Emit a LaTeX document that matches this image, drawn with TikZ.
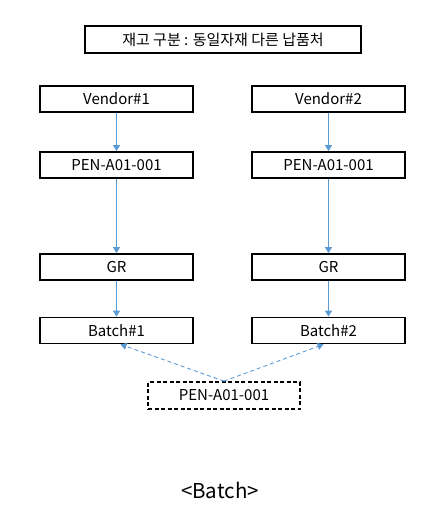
\documentclass[tikz,border=0pt]{standalone}
\usepackage{fontspec}
\setmainfont{Noto Sans CJK KR}
\usetikzlibrary{arrows.meta,positioning}
\definecolor{cline}{RGB}{91,155,213}
\tikzset{
  box/.style={draw,line width=1.7pt,minimum width=153pt,minimum height=26pt,inner sep=0pt,font=\fontsize{15}{17}\selectfont},
  conn/.style={cline,line width=0.9pt,-{Triangle[width=7pt,length=6pt]}}
}

\begin{document}
\begin{tikzpicture}[x=1pt,y=-1pt]
\useasboundingbox (0,0) rectangle (441,525);
\node[box,minimum width=276pt,minimum height=27pt] (title) at (223,39.5) {재고 구분 : 동일자재 다른 납품처};
\node[box] (v1) at (116.5,99) {Vendor\#1};
\node[box] (v2) at (328.5,99) {Vendor\#2};
\node[box] (p1) at (116.5,165) {PEN-A01-001};
\node[box] (p2) at (328.5,165) {PEN-A01-001};
\node[box] (gr1) at (116.5,267) {GR};
\node[box] (gr2) at (328.5,267) {GR};
\node[box] (b1) at (116.5,330.5) {Batch\#1};
\node[box] (b2) at (328.5,330.5) {Batch\#2};
\node[box,dash pattern=on 4pt off 2.5pt,minimum width=152pt,minimum height=27pt] (mat) at (224,395.5) {PEN-A01-001};
\node[font=\fontsize{20.5}{24}\selectfont] (cap) at (220,490) {<Batch>};
\draw[conn] (v1) -- (p1);
\draw[conn] (v2) -- (p2);
\draw[conn] (p1) -- (gr1);
\draw[conn] (p2) -- (gr2);
\draw[conn] (gr1) -- (b1);
\draw[conn] (gr2) -- (b2);
\draw[conn,dash pattern=on 4pt off 3pt] (mat.north) -- ([xshift=4pt]b1.south);
\draw[conn,dash pattern=on 4pt off 3pt] (mat.north) -- ([xshift=-5pt]b2.south);
\end{tikzpicture}
\end{document}
